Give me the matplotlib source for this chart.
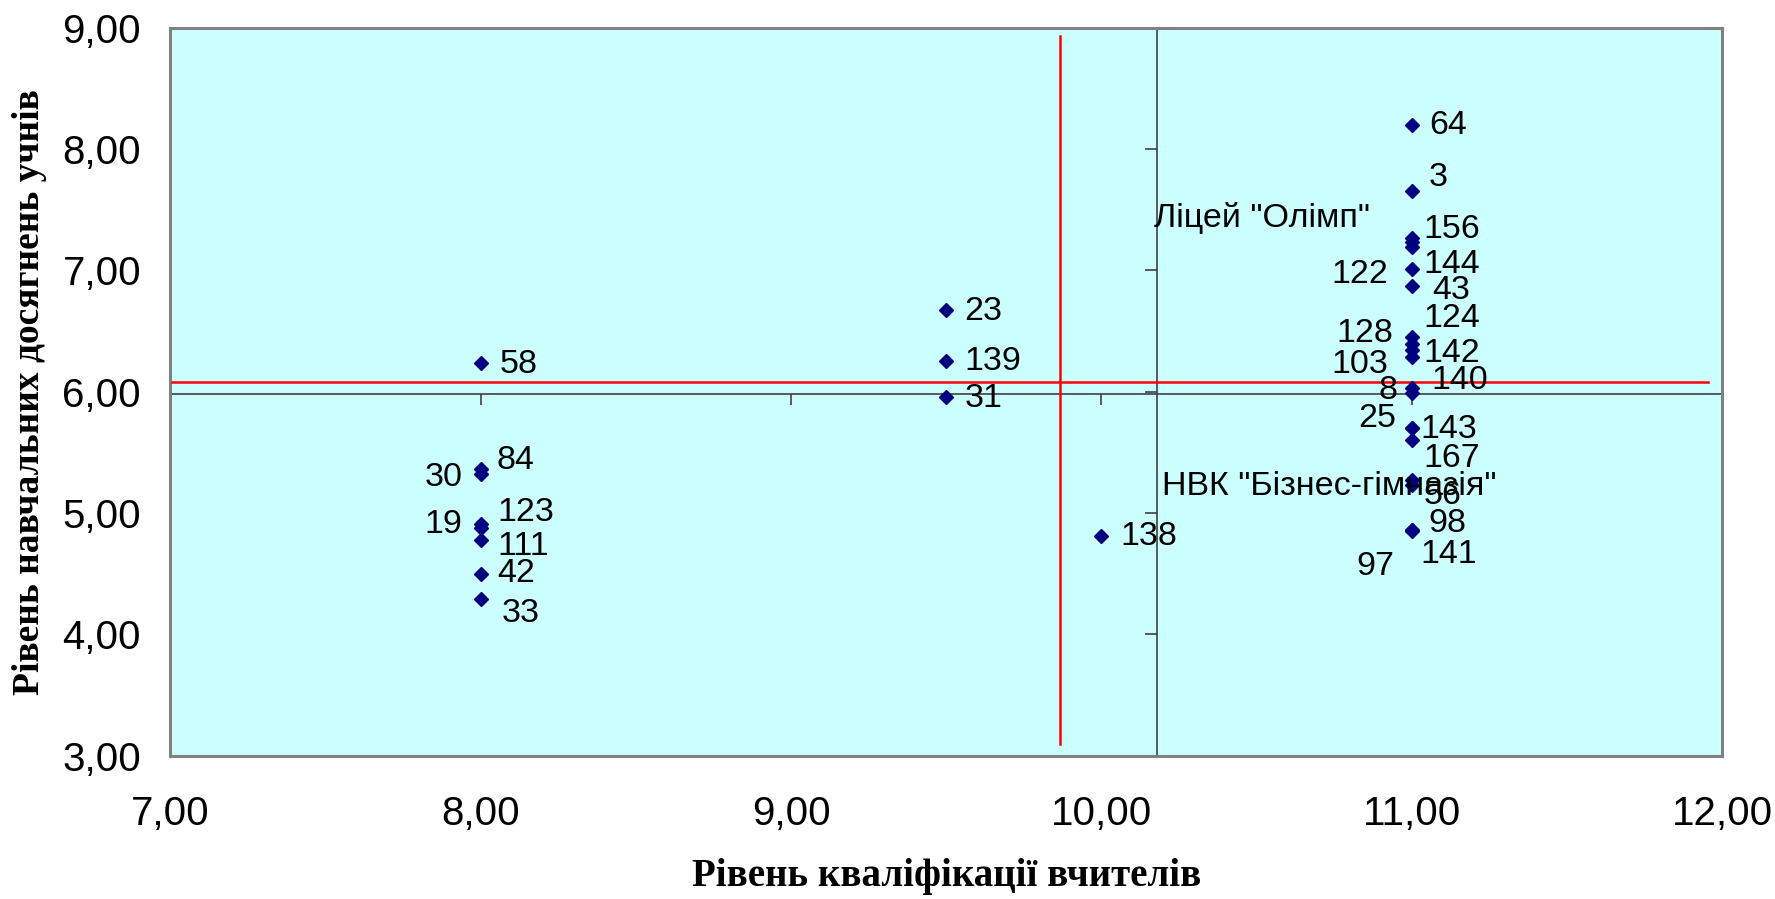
import matplotlib
matplotlib.use('Agg')
import matplotlib.pyplot as plt
from matplotlib.markers import TICKDOWN, TICKLEFT

# дані: рівень кваліфікації вчителів (x) та рівень досягнень учнів (y)
teacher_level = [8.0, 8.0, 8.0, 8.0, 8.0, 8.0, 8.0, 8.0,
                 9.5, 9.5, 9.5, 10.0,
                 11.0, 11.0, 11.0, 11.0, 11.0, 11.0, 11.0, 11.0, 11.0, 11.0, 11.0,
                 11.0, 11.0, 11.0, 11.0, 11.0, 11.0, 11.0, 11.0, 11.0, 11.0]
student_level = [6.24, 5.36, 5.32, 4.91, 4.875, 4.78, 4.50, 4.29,
                 6.67, 6.25, 5.96, 4.81,
                 8.20, 7.65, 7.27, 7.23, 7.19, 7.01, 6.87, 6.45, 6.39, 6.34, 6.29,
                 6.03, 5.99, 5.70, 5.70, 5.60, 5.27, 5.23, 4.86, 4.85, 4.86]
school_labels = ['58', '84', '30', '123', '19', '111', '42', '33',
                 '23', '139', '31', '138',
                 '64', '3', 'Ліцей "Олімп"', '156', '122', '144', '43', '124', '128', '142', '103',
                 '140', '8', '143', '25', '167', 'НВК "Бізнес-гімназія"', '56', '98', '141', '97']

x_ticks = [7, 8, 9, 10, 11, 12]
y_ticks = [3, 4, 5, 6, 7, 8, 9]
x_tick_labels = ['7,00', '8,00', '9,00', '10,00', '11,00', '12,00']
y_tick_labels = ['3,00', '4,00', '5,00', '6,00', '7,00', '8,00', '9,00']

# точки перетину осей і червоні лінії (середні)
cross_x = 10.18
cross_y = 5.98
red_x = 9.868
red_y = 6.079
red_x_span = [7.005, 11.955]
red_y_span = [3.10, 8.93]

# зсуви підписів (пікселі) та вирівнювання
label_offsets = {
    '58': (19, -2, 'left'), '84': (16, 9, 'left'), '30': (-18, -3, 'right'),
    '123': (17, 11, 'left'), '19': (-18, 4, 'right'), '111': (17, -7, 'left'),
    '42': (17, 0, 'left'), '33': (21, -14, 'left'),
    '23': (18, -1, 'left'), '139': (18, 0, 'left'), '31': (18, -2, 'left'),
    '138': (19, 0, 'left'),
    '64': (17, -1, 'left'), '3': (17, 14, 'left'), 'Ліцей "Олімп"': (-42, 20, 'right'),
    '156': (12, 13, 'left'), '122': (-24, -27, 'right'), '144': (12, 5, 'left'),
    '43': (20, -4, 'left'), '124': (12, 19, 'left'), '128': (-19, 11, 'right'),
    '142': (12, -3, 'left'), '103': (-24, -8, 'right'), '140': (20, 8, 'left'),
    '8': (-14, 2, 'right'), '143': (9, -1, 'left'), '25': (-16, 10, 'right'),
    '167': (12, -18, 'left'), 'НВК "Бізнес-гімназія"': (-250, -6, 'left'),
    '56': (12, -10, 'left'), '98': (17, 7, 'left'), '141': (9, -23, 'left'),
    '97': (-17, -36, 'right'),
}

plt.rcParams['font.family'] = ['Liberation Sans', 'DejaVu Sans']

fig = plt.figure(figsize=(17.75, 8.99), dpi=100)
ax = fig.add_axes([0.0959, 0.1594, 0.8744, 0.8098])
ax.set_facecolor('#CCFFFF')
ax.set_xlim(7, 12)
ax.set_ylim(3, 9)

for s in ax.spines.values():
    s.set_color('#808080')
    s.set_linewidth(2.2)

ax.set_xticks(x_ticks)
ax.set_xticklabels(x_tick_labels)
ax.set_yticks(y_ticks)
ax.set_yticklabels(y_tick_labels)
ax.tick_params(axis='x', length=0, pad=28, labelsize=29)
ax.tick_params(axis='y', length=0, pad=21, labelsize=29)

# осі, що перетинаються всередині
ax.axhline(cross_y, color='#404040', lw=1.2, zorder=2)
ax.axvline(cross_x, color='#404040', lw=1.2, zorder=2)
ax.plot(x_ticks, [cross_y] * len(x_ticks), ls='none', marker=TICKDOWN,
        ms=8, mew=1.2, color='#404040', zorder=2, clip_on=False)
ax.plot([cross_x] * len(y_ticks), y_ticks, ls='none', marker=TICKLEFT,
        ms=9, mew=1.2, color='#404040', zorder=2, clip_on=False)

# червоні лінії
ax.plot(red_x_span, [red_y, red_y], color='red', lw=1.8, zorder=3)
ax.plot([red_x, red_x], red_y_span, color='red', lw=1.8, zorder=3)

ax.plot(teacher_level, student_level, ls='none', marker='D', ms=7.5,
        color='#000080', mec='#000080', zorder=4)

for x, y, lab in zip(teacher_level, student_level, school_labels):
    dx, dy, ha = label_offsets[lab]
    ax.annotate(lab, (x, y), xytext=(dx, dy), textcoords='offset pixels',
                ha=ha, va='center', fontsize=24.5, color='black', zorder=5)

ax.set_xlabel('Рівень кваліфікації вчителів', fontsize=28, fontweight='bold',
              family='Liberation Serif', va='center')
ax.xaxis.set_label_coords(0.5, -0.1666)
ax.set_ylabel('Рівень навчальних досягнень учнів', fontsize=27, fontweight='bold',
              family='Liberation Serif', va='center')
ax.yaxis.set_label_coords(-0.0907, 0.5)

fig.savefig('out.png', dpi=100)
